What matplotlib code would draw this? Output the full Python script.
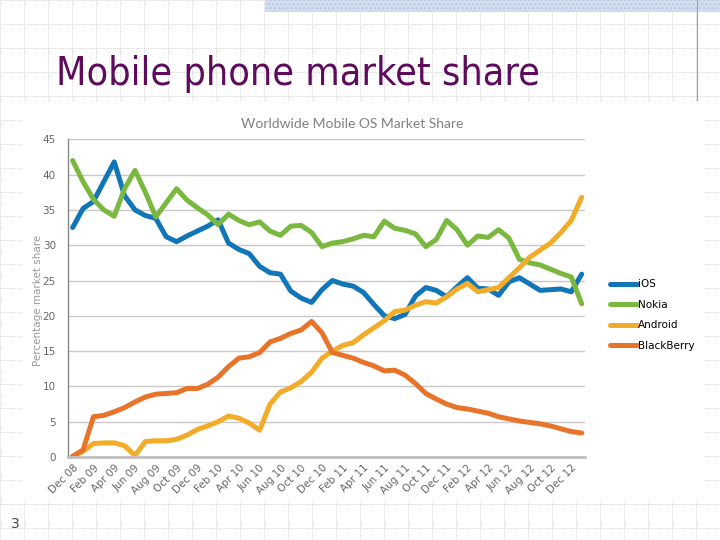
import matplotlib.pyplot as plt
import numpy as np
from matplotlib.patches import Rectangle

# month labels every two months, Dec 08 .. Dec 12
tick_labels = ["Dec 08", "Feb 09", "Apr 09", "Jun 09", "Aug 09", "Oct 09",
               "Dec 09", "Feb 10", "Apr 10", "Jun 10", "Aug 10", "Oct 10",
               "Dec 10", "Feb 11", "Apr 11", "Jun 11", "Aug 11", "Oct 11",
               "Dec 11", "Feb 12", "Apr 12", "Jun 12", "Aug 12", "Oct 12",
               "Dec 12"]

# monthly share (%), Dec 08 .. Jan 13
ios = [32.5, 35.2, 36.2, 39.0, 41.8, 37.0, 35.0, 34.2, 33.8, 31.2,
       30.5, 31.3, 32.0, 32.7, 33.6, 30.3, 29.4, 28.8, 27.0, 26.1,
       25.9, 23.5, 22.5, 21.9, 23.7, 25.0, 24.5, 24.2, 23.3, 21.6,
       20.0, 19.6, 20.2, 22.8, 24.0, 23.6, 22.7, 24.1, 25.4, 23.9,
       23.8, 22.9, 24.8, 25.4, 24.5, 23.6, 23.7, 23.8, 23.4, 25.9]
nokia = [42.0, 39.0, 36.5, 35.0, 34.1, 38.0, 40.6, 37.5, 34.0, 36.0,
         38.0, 36.4, 35.3, 34.3, 32.9, 34.4, 33.5, 32.9, 33.3, 32.0,
         31.4, 32.7, 32.8, 31.8, 29.8, 30.3, 30.5, 30.9, 31.4, 31.2,
         33.4, 32.4, 32.1, 31.6, 29.8, 30.8, 33.5, 32.2, 30.0, 31.3,
         31.1, 32.2, 31.0, 28.0, 27.5, 27.2, 26.6, 26.0, 25.5, 21.7]
android = [0.1, 0.8, 1.9, 2.0, 2.0, 1.6, 0.2, 2.2, 2.3, 2.3,
           2.5, 3.1, 3.9, 4.4, 5.0, 5.8, 5.5, 4.8, 3.8, 7.5,
           9.2, 9.8, 10.7, 12.0, 14.0, 15.0, 15.8, 16.2, 17.3, 18.3,
           19.3, 20.6, 20.8, 21.5, 22.0, 21.8, 22.7, 23.8, 24.6, 23.4,
           23.7, 24.0, 25.4, 26.8, 28.3, 29.3, 30.3, 31.8, 33.5, 36.8]
blackberry = [0.1, 1.0, 5.7, 5.9, 6.4, 7.0, 7.8, 8.5, 8.9, 9.0,
              9.1, 9.7, 9.7, 10.3, 11.3, 12.8, 14.0, 14.2, 14.8, 16.3,
              16.8, 17.5, 18.0, 19.2, 17.6, 14.8, 14.4, 14.0, 13.4, 12.9,
              12.2, 12.3, 11.6, 10.4, 9.0, 8.2, 7.5, 7.0, 6.8, 6.5,
              6.2, 5.7, 5.4, 5.1, 4.9, 4.7, 4.4, 4.0, 3.6, 3.4]

series = [("iOS", ios, "#1176b8"),
          ("Nokia", nokia, "#7ab840"),
          ("Android", android, "#f3ab2a"),
          ("BlackBerry", blackberry, "#e8742a")]

fig = plt.figure(figsize=(7.2, 5.4), dpi=100)

# slide background with dotted grid
bg = fig.add_axes([0, 0, 1, 1], zorder=0)
bg.set_xlim(0, 720)
bg.set_ylim(540, 0)
bg.axis("off")
for gx in range(0, 721, 24):
    bg.axvline(gx, color="#c8c8c8", lw=0.6, ls=(0, (1, 1.5)))
for gy in range(0, 541, 24):
    bg.axhline(gy, color="#c8c8c8", lw=0.6, ls=(0, (1, 1.5)))
bg.add_patch(Rectangle((265, 0), 455, 12, facecolor="#d3deef",
                       edgecolor="#b8c8e4", hatch="....", lw=0, zorder=2))
bg.plot([697, 697], [0, 105], color="#8fa3c8", lw=0.8, zorder=2)
bg.add_patch(Rectangle((22, 101), 682, 399, facecolor="white",
                       edgecolor="none", zorder=3))
bg.text(56, 85, "Mobile phone market share", color="#5e0b5e",
        fontsize=28.3, fontstretch="condensed", family="DejaVu Sans",
        va="baseline", ha="left", zorder=4)
bg.text(11, 528, "3", color="#444444", fontsize=10, va="baseline", zorder=4)
bg.text(352, 128, "Worldwide Mobile OS Market Share", color="#808080",
        fontsize=10, family="Lato", ha="center", va="baseline", zorder=4)
bg.text(38, 300, "Percentage market share", color="#9a9a9a", fontsize=7.5,
        rotation=90, ha="center", va="center", zorder=4)

ax = fig.add_axes([68.3 / 720, 1 - 457 / 540, 516.7 / 720, 317.7 / 540],
                  zorder=2)
ax.patch.set_alpha(0)
x = np.arange(len(ios))
for name, values, color in series:
    ax.plot(x, values, color=color, lw=3.6, label=name,
            solid_capstyle="round", solid_joinstyle="round")

ax.set_xlim(-0.42, 49.32)
ax.set_ylim(0, 45)
ax.set_yticks(range(0, 46, 5))
ax.set_xticks(range(0, 49, 2))
ax.set_xticklabels(tick_labels, rotation=45, ha="right",
                   rotation_mode="anchor")
ax.tick_params(axis="both", length=0, colors="#666666", labelsize=7.5)
ax.tick_params(axis="y", pad=9)
ax.tick_params(axis="x", pad=4)
ax.grid(axis="y", color="#c8c8c8", lw=1)
ax.set_axisbelow(True)
for side in ["top", "right"]:
    ax.spines[side].set_visible(False)
ax.spines["left"].set_color("#888888")
ax.spines["left"].set_linewidth(1)
ax.spines["bottom"].set_color("#c0c0c0")
ax.spines["bottom"].set_linewidth(2)

ax.legend(loc="upper left", bbox_to_anchor=(1.04, 0.572), frameon=False,
          fontsize=7.5, handlelength=2.6, handletextpad=0.1,
          labelspacing=1.0, borderaxespad=0)

fig.savefig("out.png", dpi=100)
